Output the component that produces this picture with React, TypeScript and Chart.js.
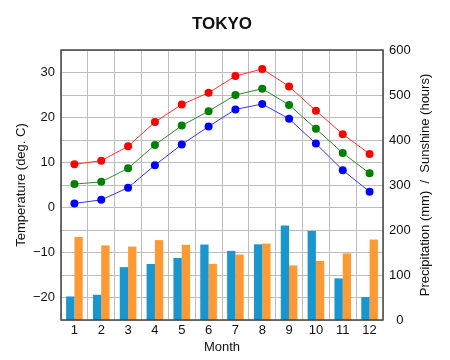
import React, { useEffect, useRef } from "react";
import { Chart, registerables } from "chart.js";

Chart.register(...registerables);

const months = ["1", "2", "3", "4", "5", "6", "7", "8", "9", "10", "11", "12"];
const tempMax = [9.6, 10.4, 13.6, 19.0, 22.9, 25.5, 29.2, 30.8, 26.9, 21.5, 16.3, 11.9];
const tempMean = [5.2, 5.7, 8.7, 13.9, 18.2, 21.4, 25.0, 26.4, 22.8, 17.5, 12.1, 7.6];
const tempMin = [0.9, 1.7, 4.4, 9.4, 14.0, 18.0, 21.8, 23.0, 19.7, 14.2, 8.3, 3.5];
const precipitation = [52.3, 56.1, 117.5, 124.5, 137.8, 167.7, 153.5, 168.2, 209.9, 197.8, 92.5, 51.0];
const sunshine = [184.5, 165.8, 163.2, 177.6, 167.0, 124.7, 145.4, 169.8, 121.3, 131.3, 148.2, 178.8];

const FONT = '"Liberation Sans", Arial, Helvetica, sans-serif';
const TEXT = "#111111";
const GRID = "#bdbdbd";
const RIGHT_TITLE = "Precipitation (mm)  /  Sunshine (hours)";

const framePlugin = {
  id: "frameAndTitle",
  afterDraw(chart: any) {
    const { ctx, chartArea } = chart;
    ctx.save();
    ctx.strokeStyle = "#444444";
    ctx.lineWidth = 1.5;
    ctx.strokeRect(chartArea.left, chartArea.top, chartArea.right - chartArea.left, chartArea.bottom - chartArea.top);
    ctx.fillStyle = TEXT;
    ctx.font = "bold 17px " + FONT;
    ctx.textAlign = "center";
    ctx.textBaseline = "middle";
    ctx.fillText("TOKYO", (chartArea.left + chartArea.right) / 2, 24);
    ctx.font = "13px " + FONT;
    ctx.translate(chart.width - 25, (chartArea.top + chartArea.bottom) / 2);
    ctx.rotate(-Math.PI / 2);
    ctx.fillText(RIGHT_TITLE, 0, 0);
    ctx.restore();
  },
};

export default function App() {
  const ref = useRef<HTMLCanvasElement | null>(null);

  useEffect(() => {
    if (!ref.current) return;
    const chart = new Chart(ref.current, {
      type: "bar",
      data: {
        labels: months,
        datasets: [
          {
            type: "line",
            label: "Max",
            data: tempMax,
            yAxisID: "y",
            borderColor: "#ff3333",
            backgroundColor: "#ff0000",
            borderWidth: 1,
            pointRadius: 4,
            pointBorderWidth: 0,
            tension: 0,
          },
          {
            type: "line",
            label: "Mean",
            data: tempMean,
            yAxisID: "y",
            borderColor: "#2a8a2a",
            backgroundColor: "#008000",
            borderWidth: 1,
            pointRadius: 4,
            pointBorderWidth: 0,
            tension: 0,
          },
          {
            type: "line",
            label: "Min",
            data: tempMin,
            yAxisID: "y",
            borderColor: "#3333ff",
            backgroundColor: "#0000ff",
            borderWidth: 1,
            pointRadius: 4,
            pointBorderWidth: 0,
            tension: 0,
          },
          {
            type: "bar",
            label: "Precipitation",
            data: precipitation,
            yAxisID: "y2",
            backgroundColor: "#1a96cf",
            categoryPercentage: 0.62,
            barPercentage: 1.0,
          },
          {
            type: "bar",
            label: "Sunshine",
            data: sunshine,
            yAxisID: "y2",
            backgroundColor: "#ff9933",
            categoryPercentage: 0.62,
            barPercentage: 1.0,
          },
        ],
      },
      options: {
        responsive: false,
        animation: false,
        devicePixelRatio: 1,
        layout: { padding: { top: 50, left: 0, right: 0, bottom: 0 } },
        plugins: { legend: { display: false }, title: { display: false }, tooltip: { enabled: false } },
        scales: {
          x: {
            offset: true,
            grid: { color: GRID, drawTicks: false, offset: true },
            border: { display: false },
            ticks: { color: TEXT, font: { family: FONT, size: 13 }, padding: 3, maxRotation: 0 },
            title: { display: true, text: "Month", color: TEXT, font: { family: FONT, size: 13 }, padding: { top: 0, bottom: 5 } },
            afterFit: (s: any) => { s.height = 40; },
          },
          y: {
            position: "left",
            min: -25,
            max: 35,
            grid: { color: GRID, drawTicks: false },
            border: { display: false },
            ticks: {
              stepSize: 5,
              autoSkip: false,
              color: TEXT,
              font: { family: FONT, size: 13 },
              padding: 6,
              callback: (v: any) => (Number(v) % 10 === 0 ? (Number(v) < 0 ? "\u2212" + Math.abs(Number(v)) : String(v)) : ""),
            },
            title: { display: true, text: "Temperature (deg. C)", color: TEXT, font: { family: FONT, size: 13 }, padding: { top: 14, bottom: 0 } },
            afterFit: (s: any) => { s.width = 61; },
          },
          y2: {
            position: "right",
            min: 0,
            max: 600,
            grid: { display: false, drawTicks: false },
            border: { display: false },
            ticks: { stepSize: 100, color: TEXT, font: { family: FONT, size: 13 }, padding: 6, crossAlign: "center" },
            title: { display: false },
            afterFit: (s: any) => { s.width = 67; },
          },
        },
      },
      plugins: [framePlugin],
    } as any);
    return () => chart.destroy();
  }, []);

  return (
    <div style={{ position: "absolute", left: 0, top: 0, width: 450, height: 360, background: "#fff" }}>
      <canvas ref={ref} width={450} height={360} />
    </div>
  );
}
